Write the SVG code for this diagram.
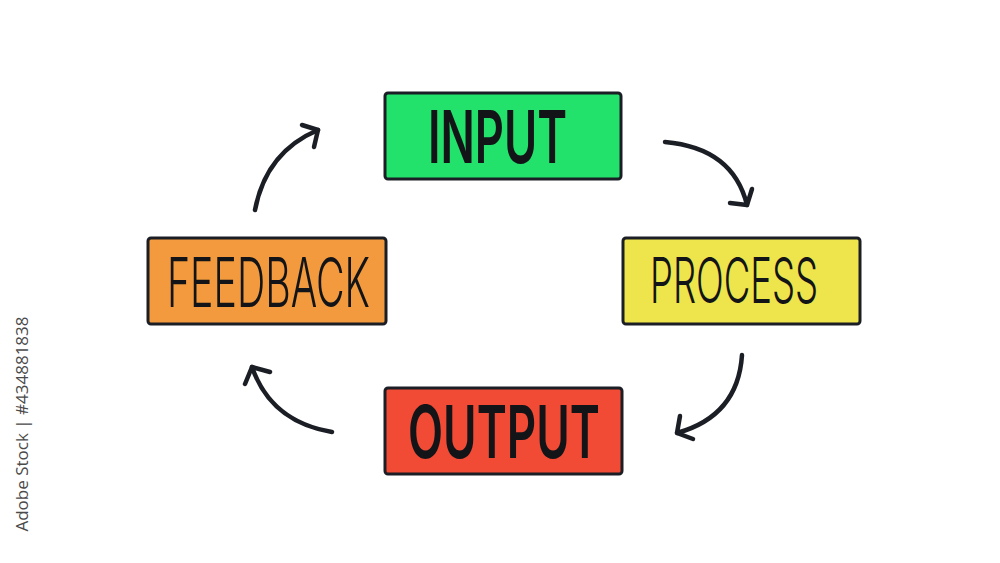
<svg xmlns="http://www.w3.org/2000/svg" width="1000" height="563" viewBox="0 0 1000 563">
  <style>
    .box { stroke: #1b1e24; stroke-width: 3; }
    .lbl { font-family: Inter, Roboto, "Liberation Sans", sans-serif; fill: #121417; }
    .bold { font-weight: 600; }
    .thin { font-weight: 300; }
    .conn { fill: none; stroke: #1b1e24; stroke-width: 4.5; stroke-linecap: round; stroke-linejoin: round; }
    .wm { font-family: "Open Sans", "Liberation Sans", sans-serif; font-size: 17px; fill: #4a4a4a; }
  </style>
  <rect width="1000" height="563" fill="#ffffff"/>
  <g id="input">
    <rect class="box" x="385" y="93" width="236" height="86" rx="3" fill="#22e26c"/>
    <text class="lbl bold" x="428" y="163" font-size="73" textLength="139" lengthAdjust="spacingAndGlyphs">INPUT</text>
  </g>
  <g id="process">
    <rect class="box" x="623" y="238" width="237" height="86" rx="3" fill="#eee44b"/>
    <text class="lbl thin" x="650" y="303" font-size="63" textLength="168" lengthAdjust="spacingAndGlyphs">PROCESS</text>
  </g>
  <g id="output">
    <rect class="box" x="385" y="388" width="237" height="86" rx="3" fill="#f14b36"/>
    <text class="lbl bold" x="408" y="458" font-size="73" textLength="192" lengthAdjust="spacingAndGlyphs">OUTPUT</text>
  </g>
  <g id="feedback">
    <rect class="box" x="148" y="238" width="238" height="86" rx="3" fill="#f29a3d"/>
    <text class="lbl thin" x="167" y="307" font-size="69" textLength="203" lengthAdjust="spacingAndGlyphs">FEEDBACK</text>
  </g>
  <g id="connectors">
    <path class="conn" d="M255,210 Q266,152 318,130"/>
    <path class="conn" d="M302,125 L318,130 L314,147"/>
    <path class="conn" d="M665,142 Q733,148 747,205"/>
    <path class="conn" d="M730,203 L747,205 L752,189"/>
    <path class="conn" d="M742,355 Q738,416 677,433"/>
    <path class="conn" d="M680,416 L677,433 L693,439"/>
    <path class="conn" d="M332,432 Q271,422 252,367"/>
    <path class="conn" d="M245,384 L252,367 L270,372"/>
  </g>
  <text class="wm" transform="translate(28,424) rotate(-90)" text-anchor="middle">Adobe Stock | #434881838</text>
</svg>
